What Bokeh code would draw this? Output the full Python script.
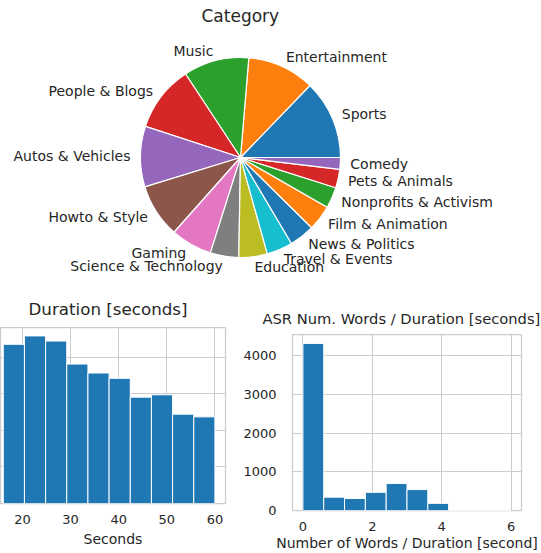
import numpy as np
from bokeh.plotting import figure
from bokeh.layouts import column, row
from bokeh.models import ColumnDataSource, SingleIntervalTicker
from bokeh.core.properties import value
from bokeh.embed import file_html
from bokeh.resources import INLINE

# ---------------- data ----------------
categories = ["Sports", "Entertainment", "Music", "People & Blogs", "Autos & Vehicles",
              "Howto & Style", "Gaming", "Science & Technology", "Education",
              "Travel & Events", "News & Politics", "Film & Animation",
              "Nonprofits & Activism", "Pets & Animals", "Comedy"]
category_share = [12.8, 10.9, 10.6, 10.7, 9.8, 8.7, 6.7, 4.6, 4.6, 4.2, 4.1, 4.1, 3.4, 3.0, 1.9]

duration_edges = [16.0, 20.4, 24.8, 29.2, 33.6, 38.0, 42.4, 46.8, 51.2, 55.6, 60.0]
duration_counts = [871, 917, 889, 763, 714, 685, 582, 595, 489, 474]

wps_edges = [0.0, 0.6, 1.2, 1.8, 2.4, 3.0, 3.6, 4.2, 4.8, 5.4, 6.0]
wps_counts = [4320, 345, 310, 470, 700, 540, 185, 0, 0, 0]

tab10 = ["#1f77b4", "#ff7f0e", "#2ca02c", "#d62728", "#9467bd",
         "#8c564b", "#e377c2", "#7f7f7f", "#bcbd22", "#17becf"]

FONT = "DejaVu Sans"
TXT = "#262626"
GRID = "#cccccc"

# ---------------- pie ----------------
share = np.array(category_share, dtype=float)
cum = np.cumsum(share)
start = 2 * np.pi * (cum - share) / share.sum()
end = 2 * np.pi * cum / share.sum()
mid = (start + end) / 2
lx = 1.1 * np.cos(mid)
ly = 1.1 * np.sin(mid)
align = ["left" if v > 0 else "right" for v in lx]
colors = [tab10[i % 10] for i in range(len(categories))]

pie_src = ColumnDataSource(dict(cat=categories, start=start, end=end, color=colors,
                                lx=lx, ly=ly, align=align))

pie = figure(width=541, height=283, x_range=(-2.40, 3.01), y_range=(-1.26, 1.29),
             output_backend="svg", toolbar_location=None,
             min_border_left=0, min_border_right=0, min_border_top=28, min_border_bottom=0,
             title="Category")
pie.axis.visible = False
pie.grid.visible = False
pie.outline_line_color = None
pie.title.align = "left"
pie.title.offset = 201
pie.title.standoff = 6
pie.title.text_font = FONT
pie.title.text_font_size = "17px"
pie.title.text_font_style = "normal"
pie.title.text_color = TXT
pie.wedge(x=0, y=0, radius=1, start_angle="start", end_angle="end", fill_color="color",
          line_color="white", line_width=1.2, source=pie_src)
pie.text(x="lx", y="ly", text="cat", text_align="align", text_baseline="middle",
         text_font=value(FONT), text_font_size="14px", text_color=TXT, source=pie_src)


def style_hist(p, xint, yint):
    p.outline_line_color = GRID
    p.outline_line_width = 1.25
    p.xgrid.grid_line_color = GRID
    p.ygrid.grid_line_color = GRID
    p.xaxis.ticker = SingleIntervalTicker(interval=xint)
    p.yaxis.ticker = SingleIntervalTicker(interval=yint)
    p.xgrid.ticker = p.xaxis.ticker
    p.ygrid.ticker = p.yaxis.ticker
    for ax in (p.xaxis, p.yaxis):
        ax.axis_line_color = None
        ax.major_tick_line_color = None
        ax.minor_tick_line_color = None
        ax.major_tick_out = 0
        ax.major_tick_in = 0
        ax.major_label_text_font = FONT
        ax.major_label_text_font_size = "13px"
        ax.major_label_text_color = TXT
        ax.major_label_text_line_height = 1.0
        ax.axis_label_text_font = FONT
        ax.axis_label_text_font_size = "14px"
        ax.axis_label_text_font_style = "normal"
        ax.axis_label_text_color = TXT
        ax.axis_label_text_line_height = 1.0
    p.yaxis.major_label_standoff = 12
    p.title.text_font = FONT
    p.title.text_font_style = "normal"
    p.title.text_color = TXT


# ---------------- duration histogram ----------------
h1 = figure(width=240, height=270, x_range=(15.42, 62.2), y_range=(0, 963),
            output_backend="svg", toolbar_location=None,
            min_border_left=0, min_border_right=15, min_border_top=44, min_border_bottom=50,
            title="Duration [seconds]", x_axis_label="Seconds")
style_hist(h1, 10, 200)
h1.title.align = "left"
h1.title.offset = 28
h1.title.text_font_size = "16.7px"
h1.title.standoff = 18
h1.xaxis.major_label_standoff = 7
h1.xaxis.axis_label_standoff = 4
h1.yaxis.visible = False
h1.quad(left=duration_edges[:-1], right=duration_edges[1:], bottom=0, top=duration_counts,
        fill_color="#1f77b4", line_color="white", line_width=1)

# ---------------- words per second histogram ----------------
h2 = figure(width=301, height=270, x_range=(-0.3, 6.3), y_range=(0, 4550),
            output_backend="svg", toolbar_location=None,
            min_border_left=48, min_border_right=20, min_border_top=51, min_border_bottom=42,
            title="ASR Num. Words / Duration [seconds]",
            x_axis_label="Number of Words / Duration [second]")
style_hist(h2, 2, 1000)
h2.title.align = "left"
h2.title.offset = -30
h2.title.standoff = 16
h2.title.text_font_size = "14.7px"
h2.xaxis.major_label_standoff = 7
h2.xaxis.axis_label_standoff = 1
h2.quad(left=wps_edges[:-1], right=wps_edges[1:], bottom=0, top=wps_counts,
        fill_color="#1f77b4", line_color="white", line_width=1)

layout = column(pie, row(column(h1), column(h2)))

open("out.html", "w").write(file_html(layout, INLINE))
